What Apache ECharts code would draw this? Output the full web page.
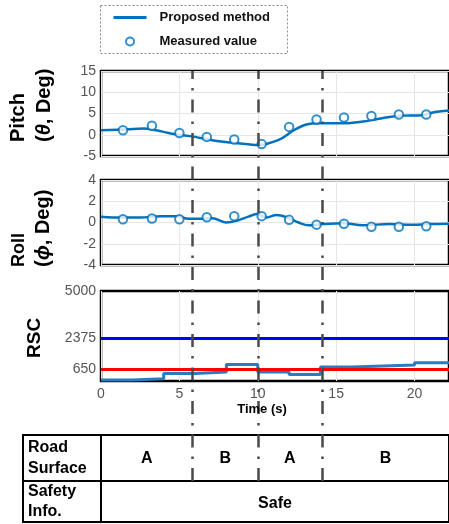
<!DOCTYPE html>
<html>
<head>
<meta charset="utf-8">
<script src="https://cdn.jsdelivr.net/npm/echarts@6/dist/echarts.min.js"></script>
<style>
html, body { margin: 0; padding: 0; background: #fff; }
#chart { width: 449px; height: 524px; }
</style>
</head>
<body>
<div id="chart"></div>
<script>
// time axis (s)
var timeMax = 22.2;

// road surface segments (dash-dot boundaries)
var surfaceBounds = [5.85, 10, 14.1];
var surfaceStart = [0, 5.85, 10, 14.1];
var surfaceEnd = [5.85, 10, 14.1, 22.2];
var surfaceLabels = ['A', 'B', 'A', 'B'];
var safetyStart = [0];
var safetyEnd = [22.2];
var safetyLabels = ['Safe'];

// pitch - proposed method
var pitchTime = [0, 1.7, 2.7, 3.5, 4.3, 5.2, 6, 7.1, 8.3, 9.4, 10.1, 10.6, 11.5, 12.3, 13.1, 14, 15.5, 16.7, 17.5, 18.4, 19.2, 20.5, 21.1, 22.2];
var pitchEst = [1.06, 1.3, 1.45, 1.06, 0.43, -0.1, -0.5, -1.3, -1.85, -2.25, -2.4, -2.1, -0.9, 1.06, 2.4, 2.7, 2.7, 3.1, 3.6, 4.2, 4.5, 4.6, 5.2, 5.7];

// roll - proposed method
var rollTime = [0, 1.25, 2.5, 3.8, 4.8, 5.6, 6.4, 7.1, 8.0, 8.75, 9.4, 10.0, 10.5, 11.2, 11.9, 12.6, 13.25, 14.1, 15.5, 16.7, 18.4, 19.9, 20.9, 22.2];
var rollEst = [0.55, 0.46, 0.46, 0.6, 0.6, 0.35, 0.35, 0.4, 0, 0.2, 0.55, 0.83, 0.46, 0.7, 0.46, 0, -0.27, -0.15, -0.06, -0.25, -0.15, -0.22, -0.15, -0.12];

// measured values
var sampleTime = [1.4, 3.25, 5.0, 6.75, 8.5, 10.25, 12.0, 13.75, 15.5, 17.25, 19.0, 20.75];
var pitchMeas = [1.05, 2.1, 0.4, -0.5, -1.1, -2.2, 1.85, 3.6, 4.05, 4.4, 4.75, 4.75];
var rollMeas = [0.3, 0.37, 0.3, 0.5, 0.6, 0.6, 0.25, -0.2, -0.12, -0.4, -0.4, -0.35];

// RSC steps
var rscTime = [0, 2, 4, 6, 8, 10, 12, 14, 16, 18, 20, 22.2];
var rscValue = [60, 120, 410, 500, 910, 500, 355, 780, 835, 890, 1020, 1020];
var rscHigh = 2375;
var rscLow = 650;
var rscTicks = [650, 2375, 5000];

var FONT = '"Liberation Sans", Arial, sans-serif';
var BLUE = '#0072BD';

function zip(a, b) {
  return a.map(function (v, i) { return [v, b[i]]; });
}

var chart = echarts.init(document.getElementById('chart'));

var gridBase = { left: 101, right: -5, show: true, borderColor: '#000', borderWidth: 2.5 };
var grids = [
  Object.assign({ top: 71, height: 85 }, gridBase),
  Object.assign({ top: 180, height: 85 }, gridBase),
  Object.assign({ top: 291, height: 90 }, gridBase),
  Object.assign({ top: 435, height: 46 }, gridBase, { borderWidth: 2 }),
  Object.assign({ top: 481, height: 41 }, gridBase, { borderWidth: 2 }),
  { left: 101, right: -5, top: 71, height: 410, show: false }
];

function timeAxis(idx, showLabels, showSplit) {
  return {
    type: 'value', gridIndex: idx, min: 0, max: timeMax, interval: 5,
    axisLine: { show: false }, axisTick: { show: false },
    axisLabel: { show: showLabels, showMaxLabel: false, color: '#555', fontSize: 14, fontFamily: FONT, margin: 6 },
    splitLine: { show: showSplit, lineStyle: { color: '#e6e6e6', width: 1 } }
  };
}

var yLabel = { color: '#555', fontSize: 14, fontFamily: FONT, margin: 5,
  formatter: function (v) { return String(v); } };

var option = {
  backgroundColor: '#fff',
  animation: false,
  grid: grids,
  legend: {
    data: [
      { name: 'Proposed method', itemStyle: { opacity: 0 }, lineStyle: { width: 3 } },
      { name: 'Measured value' }
    ],
    orient: 'vertical', left: 112, top: 11,
    itemWidth: 33, itemHeight: 8, itemGap: 11, padding: 0,
    selectedMode: false,
    textStyle: { fontFamily: FONT, fontSize: 13, fontWeight: 'bold', color: '#111', padding: [0, 0, 0, 8] }
  },
  xAxis: [
    timeAxis(0, false, true),
    timeAxis(1, false, true),
    timeAxis(2, true, true),
    timeAxis(3, false, false),
    timeAxis(4, false, false),
    timeAxis(5, false, false)
  ],
  yAxis: [
    { type: 'value', gridIndex: 0, min: -5, max: 15, interval: 5,
      axisLine: { show: false }, axisTick: { show: false }, axisLabel: yLabel,
      splitLine: { lineStyle: { color: '#e6e6e6' } } },
    { type: 'value', gridIndex: 1, min: -4, max: 4, interval: 2,
      axisLine: { show: false }, axisTick: { show: false }, axisLabel: yLabel,
      splitLine: { lineStyle: { color: '#e6e6e6' } } },
    { type: 'value', gridIndex: 2, min: 0, max: 5000,
      axisLine: { show: false }, axisTick: { show: false, customValues: rscTicks },
      axisLabel: Object.assign({ customValues: rscTicks }, yLabel),
      splitLine: { show: false } },
    { type: 'value', gridIndex: 3, min: 0, max: 1, show: false },
    { type: 'value', gridIndex: 4, min: 0, max: 1, show: false },
    { type: 'value', gridIndex: 5, min: 0, max: 1, show: false }
  ],
  series: [
    { name: 'Proposed method', type: 'line', xAxisIndex: 0, yAxisIndex: 0,
      data: zip(pitchTime, pitchEst), smooth: 0.35, symbol: 'none', color: BLUE,
      lineStyle: { color: BLUE, width: 2.5 } },
    { name: 'Measured value', type: 'scatter', xAxisIndex: 0, yAxisIndex: 0,
      data: zip(sampleTime, pitchMeas), symbol: 'emptyCircle', symbolSize: 8.5, color: BLUE,
      itemStyle: { color: BLUE, borderColor: BLUE, borderWidth: 2.4 }, z: 3 },
    { name: 'Proposed method', type: 'line', xAxisIndex: 1, yAxisIndex: 1,
      data: zip(rollTime, rollEst), smooth: 0.35, symbol: 'none', color: BLUE,
      lineStyle: { color: BLUE, width: 2.5 } },
    { name: 'Measured value', type: 'scatter', xAxisIndex: 1, yAxisIndex: 1,
      data: zip(sampleTime, rollMeas), symbol: 'emptyCircle', symbolSize: 8.5, color: BLUE,
      itemStyle: { color: BLUE, borderColor: BLUE, borderWidth: 2.4 }, z: 3 },
    { name: 'RSC', type: 'line', xAxisIndex: 2, yAxisIndex: 2, step: 'end',
      data: zip(rscTime, rscValue), symbol: 'none', color: '#2b7bc0',
      lineStyle: { color: '#2b7bc0', width: 3 } },
    { name: 'RSC thresholds', type: 'line', xAxisIndex: 2, yAxisIndex: 2, data: [], z: 4,
      markLine: {
        silent: true, symbol: 'none', label: { show: false }, animation: false,
        data: [
          { yAxis: rscHigh, lineStyle: { color: '#0000ff', width: 3, type: 'solid' } },
          { yAxis: rscLow, lineStyle: { color: '#ff0000', width: 3, type: 'solid' } }
        ]
      } },
    { name: 'Surface change', type: 'line', xAxisIndex: 5, yAxisIndex: 5, data: [], z: 10,
      markLine: {
        silent: true, symbol: 'none', label: { show: false }, animation: false,
        lineStyle: { color: '#4a4a4a', width: 2.5, type: [13, 9, 2.5, 9], dashOffset: 0 },
        data: surfaceBounds.map(function (t) { return { xAxis: t }; })
      } },
    { name: 'Road surface', type: 'custom', xAxisIndex: 3, yAxisIndex: 3,
      data: zip(surfaceStart, surfaceEnd), encode: { x: [0, 1] },
      renderItem: function (params, api) {
        var p0 = api.coord([api.value(0), 0.5]);
        var p1 = api.coord([api.value(1), 0.5]);
        return { type: 'text', x: (p0[0] + p1[0]) / 2, y: p0[1] + 1,
          style: { text: surfaceLabels[params.dataIndex], fontFamily: FONT, fontSize: 16, fontWeight: 'bold',
            fill: '#000', align: 'center', verticalAlign: 'middle' } };
      } },
    { name: 'Safety info', type: 'custom', xAxisIndex: 4, yAxisIndex: 4,
      data: zip(safetyStart, safetyEnd), encode: { x: [0, 1] },
      renderItem: function (params, api) {
        var p0 = api.coord([api.value(0), 0.5]);
        var p1 = api.coord([api.value(1), 0.5]);
        return { type: 'text', x: (p0[0] + p1[0]) / 2, y: p0[1] + 2,
          style: { text: safetyLabels[params.dataIndex], fontFamily: FONT, fontSize: 16, fontWeight: 'bold',
            fill: '#000', align: 'center', verticalAlign: 'middle' } };
      } }
  ],
  graphic: [
    // legend frame
    { type: 'rect', shape: { x: 100.5, y: 5.5, width: 187, height: 48 },
      style: { fill: 'none', stroke: '#8a8a8a', lineWidth: 1, lineDash: [2, 2] }, z: -1 },
    // panel titles
    { type: 'text', x: 18, y: 142, rotation: Math.PI / 2,
      style: { text: 'Pitch', font: 'bold 20px ' + FONT, fill: '#000', align: 'left', verticalAlign: 'middle' } },
    { type: 'text', x: 44, y: 142, rotation: Math.PI / 2,
      style: { text: '({i|θ}, Deg)', font: 'bold 20px ' + FONT, fill: '#000', align: 'left', verticalAlign: 'middle',
        rich: { i: { fontStyle: 'italic', fontWeight: 'bold', fontSize: 20, fontFamily: FONT, fill: '#000' } } } },
    { type: 'text', x: 19, y: 267, rotation: Math.PI / 2,
      style: { text: 'Roll', font: 'bold 18px ' + FONT, fill: '#000', align: 'left', verticalAlign: 'middle' } },
    { type: 'text', x: 43, y: 267, rotation: Math.PI / 2,
      style: { text: '({i|ϕ}, Deg)', font: 'bold 20px ' + FONT, fill: '#000', align: 'left', verticalAlign: 'middle',
        rich: { i: { fontStyle: 'italic', fontWeight: 'bold', fontSize: 20, fontFamily: FONT, fill: '#000' } } } },
    { type: 'text', x: 35, y: 358, rotation: Math.PI / 2,
      style: { text: 'RSC', font: 'bold 19px ' + FONT, fill: '#000', align: 'left', verticalAlign: 'middle' } },
    // x axis title
    { type: 'text', x: 262, y: 409,
      style: { text: 'Time (s)', font: 'bold 13px ' + FONT, fill: '#000', align: 'center', verticalAlign: 'middle' }, z: 20 },
    // table label column
    { type: 'rect', shape: { x: 23, y: 435, width: 78, height: 46 },
      style: { fill: 'none', stroke: '#000', lineWidth: 2 } },
    { type: 'rect', shape: { x: 23, y: 481, width: 78, height: 41 },
      style: { fill: 'none', stroke: '#000', lineWidth: 2 } },
    { type: 'text', x: 28, y: 458,
      style: { text: 'Road\nSurface', font: 'bold 16px ' + FONT, lineHeight: 21, fill: '#000', align: 'left', verticalAlign: 'middle' } },
    { type: 'text', x: 28, y: 502,
      style: { text: 'Safety\nInfo.', font: 'bold 16px ' + FONT, lineHeight: 20, fill: '#000', align: 'left', verticalAlign: 'middle' } }
  ]
};

chart.setOption(option);
</script>
</body>
</html>
